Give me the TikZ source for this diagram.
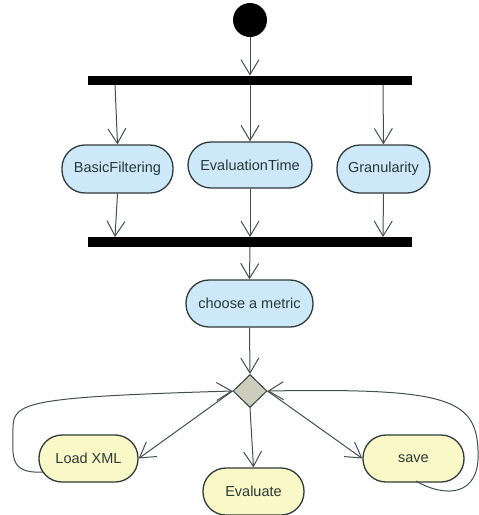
\documentclass[tikz,border=0pt]{standalone}
\usepackage{fontspec}
\setmainfont{Liberation Sans}
\usetikzlibrary{arrows.meta,shapes.geometric}
\definecolor{actblue}{HTML}{CDE8F8}
\definecolor{actyellow}{HTML}{FAF8C6}
\definecolor{edge}{HTML}{2F3A3A}
\definecolor{ink}{HTML}{2A3838}
\definecolor{decfill}{HTML}{CDCDBD}
\tikzset{
  activity/.style={draw=edge, line width=1.3pt, rectangle, rounded corners=23pt,
    inner sep=0pt, text=ink, font=\fontsize{14.5}{16}\selectfont},
  bluebox/.style={activity, fill=actblue},
  yellowbox/.style={activity, fill=actyellow},
  forkbar/.style={fill=black, draw=none, inner sep=0pt, minimum height=9.5pt, minimum width=324pt},
  flow/.style={draw=edge!90!white, line width=1pt, -{Straight Barb[length=15pt,width=18pt,line width=1pt]}},
  decision/.style={diamond, draw=edge, line width=1pt, fill=decfill, inner sep=0pt,
    minimum width=34pt, minimum height=33pt}
}
\begin{document}
\begin{tikzpicture}[x=1pt,y=-1pt]
\useasboundingbox (0,0) rectangle (479,515);
% initial state
\node[circle, fill=black, minimum size=34pt, inner sep=0pt] (start) at (250,20) {};
% fork and join bars
\node[forkbar] (fork) at (250,80.5) {};
\node[forkbar] (join) at (250,242) {};
% parallel activities
\node[bluebox, minimum width=111pt, minimum height=48pt] (bf) at (117.5,169) {BasicFiltering};
\node[bluebox, minimum width=124pt, minimum height=46pt] (et) at (250,165) {EvaluationTime};
\node[bluebox, minimum width=93pt, minimum height=48pt] (gr) at (383.5,169) {Granularity};
% metric selection
\node[bluebox, minimum width=127pt, minimum height=47pt] (cm) at (249.5,303.5) {choose a metric};
\node[decision] (dec) at (250,391) {};
% actions after the decision
\node[yellowbox, minimum width=99pt, minimum height=47pt] (lx) at (88.5,458.5) {Load XML};
\node[yellowbox, minimum width=101pt, minimum height=47pt] (ev) at (253.5,491.5) {Evaluate};
\node[yellowbox, minimum width=101pt, minimum height=47pt] (sv) at (413.5,458.5) {save};
% coordinates on the bars
\coordinate (f1) at (115,85);
\coordinate (f3) at (383,85);
\coordinate (j1) at (115,237);
\coordinate (j3) at (383,237);
% control flow
\draw[flow] (start) -- (fork.north);
\draw[flow] (f1) -- (bf.north);
\draw[flow] (fork.south) -- (et.north);
\draw[flow] (f3) -- (gr.north);
\draw[flow] (bf.south) -- (j1);
\draw[flow] (et.south) -- (join.north);
\draw[flow] (gr.south) -- (j3);
\draw[flow] (join.south) -- (cm.north);
\draw[flow] (cm.south) -- (dec.north);
\draw[flow] (dec.west) -- (lx.east);
\draw[flow] (dec.south) -- (ev.north);
\draw[flow] (dec.east) -- (sv.west);
% loops back to the decision
\coordinate (lxout) at (43,472);
\coordinate (svout) at (416,481);
\draw[flow] (lxout) .. controls (8,474) and (13,455) .. (13,428)
  .. controls (13,402) and (28,397) .. (dec.west);
\draw[flow] (svout) .. controls (445,498) and (481,497) .. (478,450)
  .. controls (476,398) and (445,388) .. (dec.east);
\end{tikzpicture}
\end{document}
